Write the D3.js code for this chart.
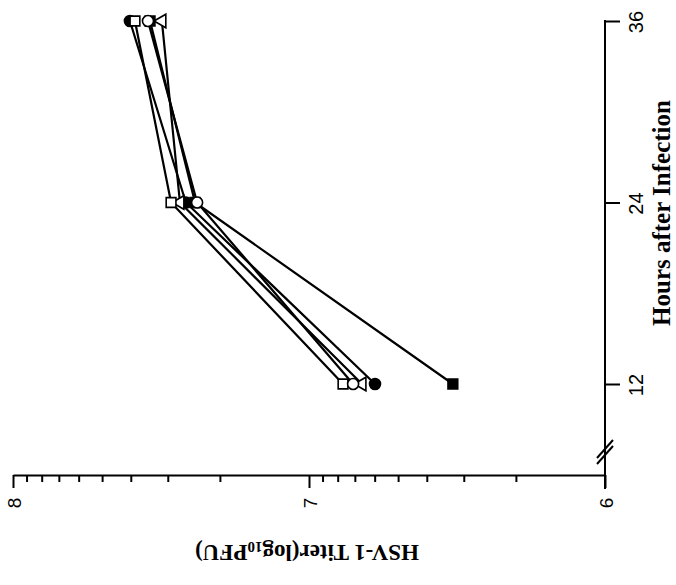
<!DOCTYPE html>
<html>
<head>
<meta charset="utf-8">
<script src="https://cdn.jsdelivr.net/npm/d3@7"></script>
<style>
  body { margin: 0; background: #fff; }
  .axis path, .axis line { stroke: #000; stroke-width: 2; }
  .axis text { fill: #000; }
</style>
</head>
<body>
<div id="chart"></div>
<script>
// data (log10 PFU)
const hours = [12, 24, 36]
const openSquare = [6.885, 7.466, 7.588]
const openCircle = [6.851, 7.378, 7.544]
const openTriangle = [6.821, 7.436, 7.497]
const filledCircle = [6.777, 7.416, 7.605]
const filledSquare = [6.514, 7.385, 7.537]
const titerTicks = [6, 7, 8]
const hourTicks = [12, 24, 36]

const width = 676, height = 585
const axisY = 475   // titer axis baseline
const serif = "'Liberation Serif', 'DejaVu Serif', serif"

const svg = d3.select('#chart')
    .append('svg')
    .attr('width', width)
    .attr('height', height)
    .style('font-family', serif)

svg.append('rect').attr('width', width).attr('height', height).attr('fill', '#fff')

// chart is drawn rotated: titer runs right-to-left, hours bottom-to-top
const xScale = d3.scaleLog().domain([1e6, 1e8]).range([605, 13])
const yScale = d3.scaleLinear().domain([12, 36]).range([384, 21])
const cornerX = xScale(1e6)

//titer axis (log ticks)
const xaxis = d3.axisBottom(xScale)
    .tickValues(xScale.ticks())
    .tickSize(7)
    .tickSizeOuter(0)
    .tickFormat('')
const gx = svg.append('g')
    .attr('class', 'axis')
    .attr('transform', `translate(0,${axisY})`)
    .call(xaxis)
gx.selectAll('.tick line')
    .filter(d => Number.isInteger(Math.round(Math.log10(d) * 1000) / 1000))
    .attr('y2', 13)

gx.selectAll('.major-label')
    .data(titerTicks)
    .enter()
    .append('text')
    .attr('transform', d => `translate(${xScale(Math.pow(10, d)) + 1},${28}) rotate(-90)`)
    .attr('text-anchor', 'middle')
    .attr('dominant-baseline', 'central')
    .style('font-size', '19px')
    .text(d => d)

//hours axis
const yaxis = d3.axisRight(yScale)
    .tickValues(hourTicks)
    .tickSize(15)
    .tickSizeOuter(0)
    .tickFormat('')
const gy = svg.append('g')
    .attr('class', 'axis')
    .attr('transform', `translate(${cornerX},0)`)
    .call(yaxis)
gy.select('.domain').remove()
gy.append('line')
    .attr('x1', 0).attr('x2', 0)
    .attr('y1', yScale(36) - 1)
    .attr('y2', axisY + 14)
// axis break
gy.selectAll('.brk')
    .data([0, 6])
    .enter()
    .append('line')
    .attr('x1', -8).attr('x2', 8)
    .attr('y1', d => 458 + d).attr('y2', d => 440 + d)
    .attr('stroke', '#000')
    .attr('stroke-width', 1.6)

gy.selectAll('.hour-label')
    .data(hourTicks)
    .enter()
    .append('text')
    .attr('transform', d => `translate(31,${yScale(d) + 1}) rotate(-90)`)
    .attr('text-anchor', 'middle')
    .attr('dominant-baseline', 'central')
    .style('font-size', '20px')
    .text(d => d)

//axis titles
svg.append('text')
    .attr('transform', 'translate(661,213) rotate(-90)')
    .attr('text-anchor', 'middle')
    .attr('dominant-baseline', 'central')
    .style('font-size', '25px')
    .style('font-weight', 'bold')
    .text('Hours after Infection')

const ytitle = svg.append('text')
    .attr('transform', 'translate(307,553) rotate(180)')
    .attr('text-anchor', 'middle')
    .attr('dominant-baseline', 'central')
    .style('font-size', '23px')
    .style('font-weight', 'bold')
ytitle.append('tspan').text('HSV-1 Titer(log')
ytitle.append('tspan').attr('dy', 6).style('font-size', '15px').text('10')
ytitle.append('tspan').attr('dy', -6).text('PFU)')

//series
const series = [
    { name: 'filledSquare', values: filledSquare, shape: d3.symbolSquare, fill: '#000' },
    { name: 'filledCircle', values: filledCircle, shape: d3.symbolCircle, fill: '#000' },
    { name: 'openTriangle', values: openTriangle, shape: d3.symbolTriangle, fill: '#fff' },
    { name: 'openSquare', values: openSquare, shape: d3.symbolSquare, fill: '#fff' },
    { name: 'openCircle', values: openCircle, shape: d3.symbolCircle, fill: '#fff' }
]

const line = d3.line()
    .x(d => xScale(Math.pow(10, d.v)))
    .y(d => yScale(d.h))

series.forEach(s => {
    s.points = hours.map((h, i) => ({ h: h, v: s.values[i] }))
})

svg.selectAll('.line')
    .data(series)
    .enter()
    .append('path')
    .attr('class', 'line')
    .attr('d', d => line(d.points))
    .attr('fill', 'none')
    .attr('stroke', '#000')
    .attr('stroke-width', 2.2)

series.forEach(s => {
    svg.selectAll('.pt-' + s.name)
        .data(s.points)
        .enter()
        .append('path')
        .attr('d', d3.symbol().type(s.shape).size(s.shape === d3.symbolTriangle ? 80 : 95))
        .attr('transform', d => `translate(${xScale(Math.pow(10, d.v))},${yScale(d.h)})` +
            (s.shape === d3.symbolTriangle ? ' rotate(-90)' : ''))
        .attr('fill', s.fill)
        .attr('stroke', '#000')
        .attr('stroke-width', 1.6)
})
</script>
</body>
</html>
